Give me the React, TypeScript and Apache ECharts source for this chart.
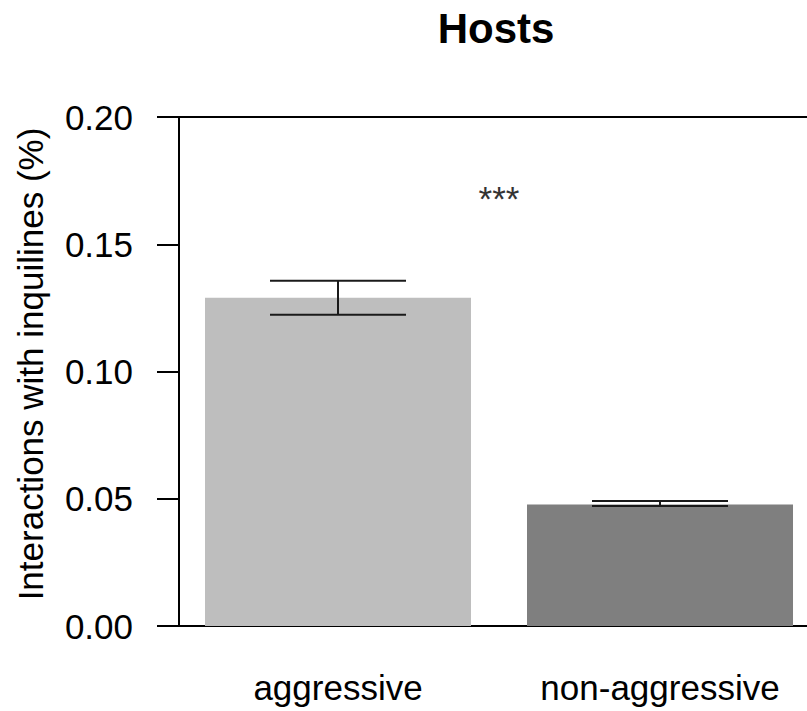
import React, { useEffect, useRef } from "react";
import * as echarts from "echarts";

const categories = ["aggressive", "non-aggressive"];
const means = [0.129, 0.0477];
const errLow = [0.1223, 0.0472];
const errHigh = [0.1357, 0.0491];
const barColors = ["#BEBEBE", "#7F7F7F"];
const yTicks = [0, 0.05, 0.1, 0.15, 0.2];
const sigLabel = ["***"];
const sigY = [0.168];
const yTitle = "Interactions with inquilines (%)";

const FONT = "'Liberation Sans', Arial, sans-serif";

// x layout: category i sits at value i on a value axis
const X_MIN = -0.4938;
const X_MAX = 1.4565;

export default function App() {
  const ref = useRef<HTMLDivElement>(null);
  useEffect(() => {
    if (!ref.current) return;
    const chart = echarts.init(ref.current, null, { renderer: "svg" });
    const catIdx = categories.map((_, i) => i);
    const option: any = {
      animation: false,
      backgroundColor: "#ffffff",
      textStyle: { fontFamily: FONT },
      title: {
        text: "Hosts",
        left: 491,
        textAlign: "center",
        top: 2,
        textStyle: { fontFamily: FONT, fontSize: 42, fontWeight: "bold", color: "#000" },
      },
      graphic: [
        {
          type: "text",
          x: 30,
          y: 364,
          rotation: Math.PI / 2,
          style: {
            text: yTitle,
            fontSize: 35,
            fontFamily: FONT,
            fill: "#000",
            align: "center",
            verticalAlign: "middle",
          },
        },
      ],
      grid: { left: 179, right: 0, top: 117, bottom: 85, containLabel: false },
      xAxis: [
        {
          type: "value",
          min: X_MIN,
          max: X_MAX,
          position: "bottom",
          axisLine: { show: true, onZero: false, lineStyle: { color: "#000", width: 2 } },
          axisTick: { show: false },
          splitLine: { show: false },
          axisLabel: {
            fontSize: 35,
            color: "#000",
            margin: 44,
            fontFamily: FONT,
            customValues: catIdx,
            formatter: (v: number) => categories[Math.round(v)] ?? "",
          },
        },
        {
          type: "value",
          min: X_MIN,
          max: X_MAX,
          position: "top",
          axisLine: { show: true, onZero: false, lineStyle: { color: "#000", width: 2 } },
          axisTick: { show: false },
          splitLine: { show: false },
          axisLabel: { show: false },
        },
      ],
      yAxis: {
        type: "value",
        min: yTicks[0],
        max: yTicks[yTicks.length - 1],
        interval: 0.05,
        position: "left",
        axisLine: { show: true, onZero: false, lineStyle: { color: "#000", width: 2 } },
        axisTick: { show: true, inside: false, length: 22, lineStyle: { color: "#000", width: 2 } },
        axisLabel: {
          fontSize: 35,
          color: "#000",
          margin: 46,
          fontFamily: FONT,
          formatter: (v: number) => v.toFixed(2),
        },
        splitLine: { show: false },
      },
      series: [
        {
          type: "bar",
          xAxisIndex: 0,
          barWidth: 266,
          data: means.map((v, i) => ({ value: [catIdx[i], v], itemStyle: { color: barColors[i] } })),
        },
        {
          type: "custom",
          xAxisIndex: 0,
          data: categories.map((_, i) => [catIdx[i], errLow[i], errHigh[i]]),
          renderItem: (params: any, api: any) => {
            const x = api.value(0);
            const lo = api.coord([x, api.value(1)]);
            const hi = api.coord([x, api.value(2)]);
            const hw = 68;
            const style = { stroke: "#1a1a1a", lineWidth: 2 };
            return {
              type: "group",
              children: [
                { type: "line", shape: { x1: lo[0], y1: lo[1], x2: hi[0], y2: hi[1] }, style },
                { type: "line", shape: { x1: lo[0] - hw, y1: lo[1], x2: lo[0] + hw, y2: lo[1] }, style },
                { type: "line", shape: { x1: hi[0] - hw, y1: hi[1], x2: hi[0] + hw, y2: hi[1] }, style },
              ],
            };
          },
          z: 5,
        },
        {
          type: "custom",
          xAxisIndex: 0,
          data: sigY.map((y) => [0, y]),
          renderItem: (params: any, api: any) => {
            const y = api.value(1);
            const p0 = api.coord([catIdx[0], y]);
            const p1 = api.coord([catIdx[1], y]);
            return {
              type: "text",
              x: (p0[0] + p1[0]) / 2,
              y: p0[1],
              style: {
                text: sigLabel[params.dataIndex],
                fontSize: 35,
                fontFamily: FONT,
                fill: "#333",
                align: "center",
                verticalAlign: "middle",
              },
            };
          },
          z: 6,
        },
      ],
    };
    chart.setOption(option);
    return () => chart.dispose();
  }, []);
  return <div ref={ref} style={{ width: 807, height: 711, position: "absolute", left: 0, top: 0 }} />;
}
